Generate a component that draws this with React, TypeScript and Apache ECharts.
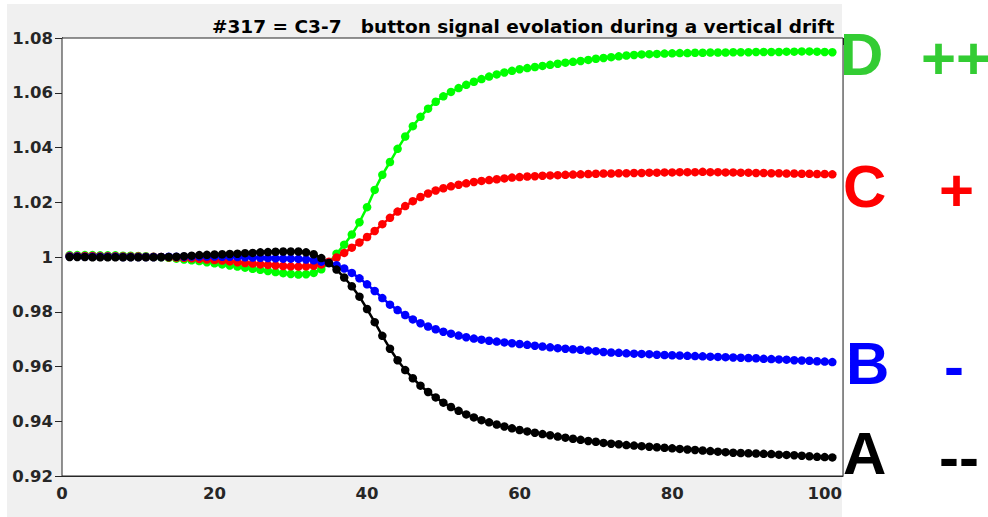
import React, { useEffect, useRef } from "react";
import * as echarts from "echarts";

// Sample index along the drift (1..101)
const steps: number[] = Array.from({ length: 101 }, (_, i) => i + 1);

// Normalised button signals
const signalD: number[] = [
  1.0007, 1.0007, 1.0007, 1.0007, 1.0006, 1.0006, 1.0006, 1.0005, 1.0005, 1.0004,
  1.0003, 1.0001, 0.9999, 0.9997, 0.9994, 0.9991, 0.9988, 0.9985, 0.9981, 0.9977,
  0.9973, 0.9969, 0.9965, 0.9961, 0.9957, 0.9953, 0.9949, 0.9945, 0.9941, 0.9938,
  0.9936, 0.9937, 0.9942, 0.9955, 0.9980, 1.0012, 1.0045, 1.0082, 1.0127, 1.0182,
  1.0245, 1.0300, 1.0347, 1.0395, 1.0440, 1.0478, 1.0512, 1.0542, 1.0567, 1.0587,
  1.0603, 1.0617, 1.0629, 1.0640, 1.0650, 1.0659, 1.0667, 1.0674, 1.0680, 1.0686,
  1.0690, 1.0694, 1.0698, 1.0702, 1.0706, 1.0710, 1.0713, 1.0716, 1.0720, 1.0724,
  1.0727, 1.0730, 1.0733, 1.0736, 1.0738, 1.0740, 1.0741, 1.0742, 1.0743, 1.0744,
  1.0745, 1.0745, 1.0746, 1.0746, 1.0747, 1.0747, 1.0747, 1.0748, 1.0748, 1.0748,
  1.0749, 1.0749, 1.0749, 1.0749, 1.0750, 1.0750, 1.0751, 1.0751, 1.0750, 1.0749, 1.0748,
];

const signalC: number[] = [
  1.0004, 1.0004, 1.0004, 1.0004, 1.0003, 1.0003, 1.0003, 1.0002, 1.0002, 1.0002,
  1.0001, 1.0001, 1.0000, 0.9999, 0.9998, 0.9997, 0.9995, 0.9993, 0.9991, 0.9989,
  0.9987, 0.9984, 0.9981, 0.9978, 0.9976, 0.9973, 0.9971, 0.9969, 0.9967, 0.9966,
  0.9965, 0.9966, 0.9968, 0.9973, 0.9983, 0.9998, 1.0015, 1.0034, 1.0053, 1.0073,
  1.0095, 1.0120, 1.0143, 1.0166, 1.0186, 1.0204, 1.0219, 1.0232, 1.0243, 1.0251,
  1.0258, 1.0264, 1.0269, 1.0274, 1.0278, 1.0281, 1.0284, 1.0287, 1.0290, 1.0292,
  1.0294, 1.0295, 1.0297, 1.0298, 1.0299, 1.0300, 1.0301, 1.0302, 1.0303, 1.0304,
  1.0305, 1.0305, 1.0306, 1.0306, 1.0307, 1.0307, 1.0308, 1.0308, 1.0309, 1.0309,
  1.0310, 1.0310, 1.0310, 1.0311, 1.0310, 1.0310, 1.0309, 1.0309, 1.0308, 1.0308,
  1.0307, 1.0307, 1.0306, 1.0306, 1.0305, 1.0305, 1.0304, 1.0304, 1.0303, 1.0303, 1.0302,
];

const signalB: number[] = [
  1.0002, 1.0002, 1.0001, 1.0001, 1.0001, 1.0001, 1.0001, 1.0000, 1.0000, 1.0000,
  1.0000, 1.0000, 1.0000, 1.0001, 1.0001, 1.0001, 1.0002, 1.0002, 1.0002, 1.0002,
  1.0001, 1.0001, 1.0000, 0.9999, 0.9998, 0.9997, 0.9996, 0.9995, 0.9994, 0.9994,
  0.9993, 0.9991, 0.9988, 0.9983, 0.9978, 0.9970, 0.9958, 0.9942, 0.9922, 0.9900,
  0.9876, 0.9850, 0.9826, 0.9806, 0.9788, 0.9772, 0.9758, 0.9746, 0.9736, 0.9727,
  0.9720, 0.9713, 0.9707, 0.9702, 0.9698, 0.9694, 0.9691, 0.9688, 0.9685, 0.9682,
  0.9679, 0.9676, 0.9673, 0.9670, 0.9667, 0.9665, 0.9663, 0.9661, 0.9658, 0.9656,
  0.9653, 0.9651, 0.9650, 0.9648, 0.9647, 0.9646, 0.9645, 0.9643, 0.9642, 0.9641,
  0.9640, 0.9639, 0.9638, 0.9637, 0.9636, 0.9635, 0.9634, 0.9633, 0.9632, 0.9631,
  0.9630, 0.9628, 0.9627, 0.9626, 0.9625, 0.9623, 0.9622, 0.9621, 0.9619, 0.9618, 0.9616,
];

const signalA: number[] = [
  1.0000, 1.0000, 1.0000, 0.9999, 0.9999, 0.9999, 0.9999, 0.9999, 0.9999, 0.9999,
  0.9999, 0.9999, 1.0000, 1.0000, 1.0001, 1.0003, 1.0005, 1.0007, 1.0008, 1.0009,
  1.0010, 1.0011, 1.0012, 1.0014, 1.0015, 1.0017, 1.0018, 1.0019, 1.0020, 1.0020,
  1.0020, 1.0017, 1.0010, 0.9996, 0.9978, 0.9954, 0.9925, 0.9893, 0.9855, 0.9810,
  0.9762, 0.9712, 0.9665, 0.9623, 0.9587, 0.9557, 0.9530, 0.9507, 0.9487, 0.9468,
  0.9452, 0.9438, 0.9425, 0.9414, 0.9404, 0.9396, 0.9388, 0.9381, 0.9374, 0.9368,
  0.9363, 0.9358, 0.9353, 0.9349, 0.9344, 0.9340, 0.9336, 0.9332, 0.9328, 0.9325,
  0.9321, 0.9318, 0.9316, 0.9313, 0.9311, 0.9309, 0.9307, 0.9305, 0.9303, 0.9301,
  0.9299, 0.9297, 0.9295, 0.9293, 0.9291, 0.9289, 0.9287, 0.9285, 0.9284, 0.9283,
  0.9282, 0.9281, 0.9280, 0.9278, 0.9277, 0.9276, 0.9274, 0.9272, 0.9270, 0.9269, 0.9268,
];

const seriesNames = ["D", "C", "B", "A"];
const seriesColors = ["#00ff00", "#ff0000", "#0000ff", "#000000"];
const seriesValues = [signalD, signalC, signalB, signalA];

// Right-hand annotations: button letter and polarity mark
const tagLetters = ["D", "C", "B", "A"];
const tagSigns = ["++", "+", "-", "--"];
const tagColors = ["#33cc33", "#ff0000", "#0000ff", "#000000"];

const titleText = "#317 = C3-7   button signal evolation during a vertical drift";

const AXIS = "#262626";
const GRIDLINE = "#e3e3e3";
const FONT = "'DejaVu Sans', sans-serif";

export default function App() {
  const ref = useRef<HTMLDivElement>(null);

  useEffect(() => {
    document.body.style.margin = "0";
    if (!ref.current) return;
    const chart = echarts.init(ref.current, null, { renderer: "svg" });

    const labelStyle = {
      fontFamily: FONT,
      fontWeight: "bold" as const,
      fontSize: 16.5,
      color: AXIS,
    };

    const tagPos = [
      { lx: 840, ly: 54, sx: 921, sy: 58 },
      { lx: 843, ly: 186, sx: 939, sy: 190 },
      { lx: 846, ly: 363, sx: 944, sy: 366 },
      { lx: 843, ly: 453, sx: 939, sy: 457 },
    ];

    const tagGraphics: any[] = [];
    tagLetters.forEach((t, i) => {
      tagGraphics.push({
        type: "text",
        x: tagPos[i].lx,
        y: tagPos[i].ly,
        style: {
          text: t,
          fill: tagColors[i],
          font: "bold 60px 'Liberation Sans', Arial, sans-serif",
          textVerticalAlign: "middle",
          textAlign: "left",
        },
      });
      tagGraphics.push({
        type: "text",
        x: tagPos[i].sx,
        y: tagPos[i].sy,
        style: {
          text: tagSigns[i],
          fill: tagColors[i],
          font: "bold 60px 'Liberation Sans', Arial, sans-serif",
          textVerticalAlign: "middle",
          textAlign: "left",
        },
      });
    });

    const option: any = {
      animation: false,
      backgroundColor: "#ffffff",
      title: {
        text: titleText,
        left: 207,
        top: 12,
        textStyle: { fontFamily: FONT, fontWeight: "bold", fontSize: 18.5, color: "#000" },
      },
      graphic: [
        {
          type: "rect",
          z: -10,
          shape: { x: 7, y: 4, width: 835, height: 520 },
          style: { fill: "#f0f0f0" },
        },
        ...tagGraphics,
      ],
      grid: {
        left: 62,
        top: 38,
        width: 781,
        height: 438,
        show: true,
        backgroundColor: "#ffffff",
        borderColor: AXIS,
        borderWidth: 1,
        z: 1,
      },
      xAxis: [
        {
          type: "value",
          min: 0,
          max: 102.4,
          interval: 20,
          position: "bottom",
          axisLine: { show: true, lineStyle: { color: AXIS, width: 1 } },
          axisTick: { show: true, inside: true, length: 7, lineStyle: { color: AXIS } },
          axisLabel: { ...labelStyle, margin: 9, showMaxLabel: false },
          splitLine: { show: true, lineStyle: { color: GRIDLINE, width: 1 } },
        },
        {
          type: "value",
          min: 0,
          max: 102.4,
          interval: 20,
          position: "top",
          axisLine: { show: true, lineStyle: { color: AXIS, width: 1 } },
          axisTick: { show: true, inside: true, length: 7, lineStyle: { color: AXIS } },
          axisLabel: { show: false },
          splitLine: { show: false },
        },
      ],
      yAxis: [
        {
          type: "value",
          min: 0.92,
          max: 1.08,
          interval: 0.02,
          position: "left",
          axisLine: { show: true, lineStyle: { color: AXIS, width: 1 } },
          axisTick: { show: true, inside: true, length: 7, lineStyle: { color: AXIS } },
          axisLabel: {
            ...labelStyle,
            margin: 9,
            formatter: (v: number) => String(Number(v.toFixed(2))),
          },
          splitLine: { show: true, lineStyle: { color: GRIDLINE, width: 1 } },
        },
        {
          type: "value",
          min: 0.92,
          max: 1.08,
          interval: 0.02,
          position: "right",
          axisLine: { show: true, lineStyle: { color: AXIS, width: 1 } },
          axisTick: { show: true, inside: true, length: 7, lineStyle: { color: AXIS } },
          axisLabel: { show: false },
          splitLine: { show: false },
        },
      ],
      series: seriesValues.map((vals, i) => ({
        name: seriesNames[i],
        type: "line",
        xAxisIndex: 0,
        yAxisIndex: 0,
        data: steps.map((s, k) => [s, vals[k]]),
        symbol: "circle",
        symbolSize: 8.5,
        showSymbol: true,
        showAllSymbol: true,
        itemStyle: { color: seriesColors[i], borderWidth: 0 },
        lineStyle: { color: seriesColors[i], width: 2.5 },
        z: 3 + i,
      })),
    };

    chart.setOption(option);
    return () => chart.dispose();
  }, []);

  return <div ref={ref} style={{ width: 988, height: 517 }} />;
}
